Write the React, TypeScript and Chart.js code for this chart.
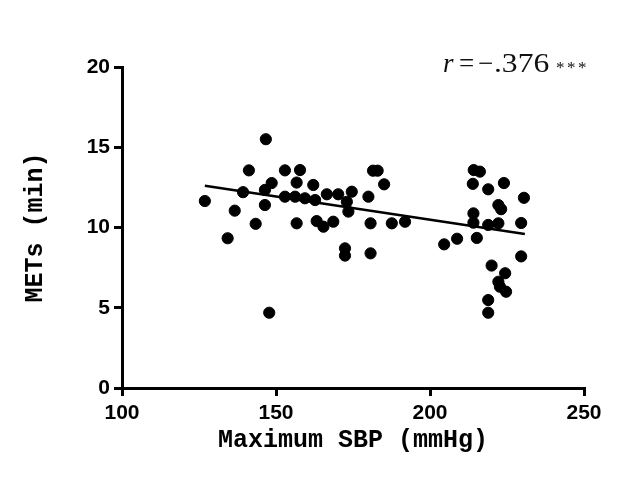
import React, { useEffect, useRef } from "react";
import { Chart, registerables } from "chart.js";

Chart.register(...registerables);

const sbpValues: number[] = [
  126.9, 134.3, 136.6, 139.3, 141.2, 143.4, 146.7, 147.8, 146.4, 146.4,
  148.6, 152.9, 157.8, 156.7, 162.1, 152.9, 156.2, 159.4, 162.7, 156.7,
  163.2, 165.4, 168.6, 166.5, 170.2, 174.6, 173.0, 173.5, 180.0, 181.5,
  183.0, 185.1, 180.7, 187.6, 191.9, 172.4, 172.4, 180.7, 204.6, 208.8,
  215.2, 214.2, 216.2, 213.9, 218.9, 224.0, 230.5, 222.2, 223.1, 214.1,
  214.1, 218.9, 222.2, 229.6, 229.6, 220.0, 224.4, 222.2, 222.7, 224.7,
  218.9, 218.9,
];
const metsValues: number[] = [
  11.65, 9.33, 11.05, 12.2, 13.56, 10.23, 15.5, 4.69, 11.4, 12.34,
  12.77, 13.56, 13.58, 12.8, 12.65, 11.92, 11.92, 11.82, 11.71, 10.26,
  10.4, 10.05, 10.36, 12.07, 12.07, 12.23, 11.6, 10.99, 11.92, 13.54,
  13.54, 12.69, 10.26, 10.26, 10.36, 8.7, 8.25, 8.39, 8.95, 9.3,
  9.35, 13.58, 13.48, 12.72, 12.38, 12.77, 11.85, 11.4, 11.14, 10.88,
  10.3, 10.16, 10.26, 10.28, 8.2, 7.63, 7.15, 6.62, 6.31, 6.0,
  5.48, 4.69,
];
const fitX: number[] = [126.9, 230.8];
const fitY: number[] = [12.6, 9.6];

const xTicks: number[] = [100, 150, 200, 250];
const yTicks: number[] = [0, 5, 10, 15, 20];

const xTitle = "Maximum SBP (mmHg)";
const yTitle = "METs (min)";
const annotR = "r";
const annotEq = "=";
const annotMinus = "−";
const annotValue = ".376";
const annotStars = "***";
const annotAt: number[] = [204.2, 19.7];

const annotationPlugin = {
  id: "rAnnotation",
  afterDraw(chart: any) {
    const { ctx } = chart;
    const xs = chart.scales.x;
    const ys = chart.scales.y;
    const x0 = xs.getPixelForValue(annotAt[0]);
    const base = ys.getPixelForValue(annotAt[1]);
    ctx.save();
    ctx.fillStyle = "#111";
    ctx.textBaseline = "alphabetic";
    ctx.textAlign = "left";
    ctx.font = 'italic 27px "Liberation Serif"';
    ctx.fillText(annotR, x0, base);
    ctx.font = '27px "Liberation Serif"';
    ctx.fillText(annotEq, x0 + 16, base);
    ctx.fillText(annotMinus, x0 + 35, base);
    ctx.save();
    ctx.translate(x0 + 51, base);
    ctx.scale(1.17, 1);
    ctx.fillText(annotValue, 0, 0);
    ctx.restore();
    ctx.font = '17px "Liberation Serif"';
    for (let i = 0; i < annotStars.length; i++) {
      ctx.fillText(annotStars[i], x0 + 113 + i * 11, base + 1);
    }
    ctx.restore();
  },
};

export default function App() {
  const canvasRef = useRef<HTMLCanvasElement | null>(null);

  useEffect(() => {
    if (!canvasRef.current) return;
    const points = sbpValues.map((x, i) => ({ x, y: metsValues[i] }));
    const fit = fitX.map((x, i) => ({ x, y: fitY[i] }));
    const tickFont = { family: '"Liberation Sans", Arial, sans-serif', size: 21, weight: "bold" as const };
    const titleFont = { family: '"Liberation Mono", "DejaVu Sans Mono", monospace', size: 25, weight: "bold" as const };

    const chart = new Chart(canvasRef.current, {
      type: "scatter",
      data: {
        datasets: [
          {
            label: "fit",
            type: "line",
            data: fit,
            borderColor: "#000",
            borderWidth: 2.6,
            pointRadius: 0,
            fill: false,
            order: 1,
          } as any,
          {
            label: "data",
            data: points,
            backgroundColor: "#000",
            borderColor: "#000",
            borderWidth: 1,
            pointRadius: 5.6,
            order: 0,
          },
        ],
      },
      options: {
        animation: false,
        responsive: true,
        maintainAspectRatio: false,
        layout: { padding: { top: 67, right: 52, left: 0, bottom: 0 } },
        plugins: {
          legend: { display: false },
          tooltip: { enabled: false },
        },
        scales: {
          x: {
            type: "linear",
            min: 100,
            max: 250,
            afterBuildTicks: (scale: any) => {
              scale.ticks = xTicks.map((v) => ({ value: v }));
            },
            afterFit: (scale: any) => {
              scale.height = 110;
              scale.paddingLeft = 0;
              scale.paddingRight = 0;
            },
            ticks: { color: "#000", font: tickFont, padding: 5, maxRotation: 0 },
            grid: {
              display: true,
              drawOnChartArea: false,
              drawTicks: true,
              tickLength: 8,
              tickWidth: 3,
              lineWidth: 3,
              tickColor: "#000",
              color: "#000",
            },
            border: { display: true, color: "#000", width: 3 },
            title: {
              display: true,
              text: xTitle,
              color: "#000",
              font: titleFont,
              padding: { top: 0, bottom: 42 },
            },
          },
          y: {
            type: "linear",
            min: 0,
            max: 20,
            afterBuildTicks: (scale: any) => {
              scale.ticks = yTicks.map((v) => ({ value: v }));
            },
            afterFit: (scale: any) => {
              scale.width = 122;
              scale.paddingTop = 0;
              scale.paddingBottom = 0;
            },
            ticks: { color: "#000", font: tickFont, padding: 4 },
            grid: {
              display: true,
              drawOnChartArea: false,
              drawTicks: true,
              tickLength: 8,
              tickWidth: 3,
              lineWidth: 3,
              tickColor: "#000",
              color: "#000",
            },
            border: { display: true, color: "#000", width: 3 },
            title: {
              display: true,
              text: yTitle,
              color: "#000",
              font: titleFont,
              padding: { top: 21, bottom: 0 },
            },
          },
        },
      },
      plugins: [annotationPlugin],
    });
    return () => chart.destroy();
  }, []);

  return (
    <div style={{ position: "fixed", left: 0, top: 0, width: 636, height: 498, background: "#fff" }}>
      <canvas ref={canvasRef} width={636} height={498} />
    </div>
  );
}
